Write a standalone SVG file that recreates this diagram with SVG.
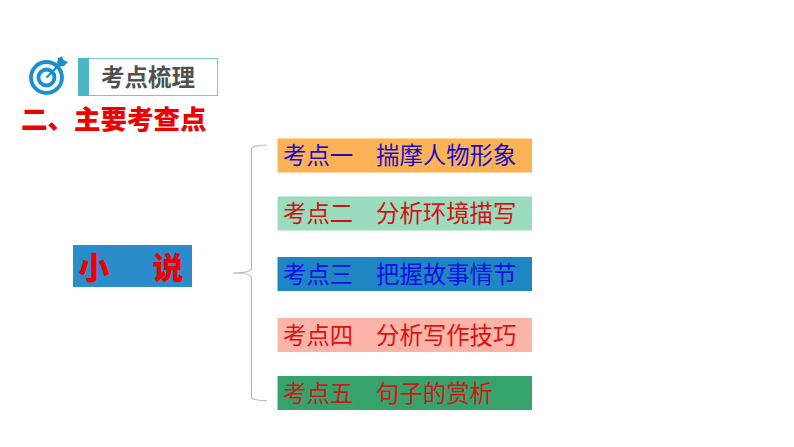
<svg xmlns="http://www.w3.org/2000/svg" width="794" height="447" viewBox="0 0 794 447">
<style>
text{font-family:"Noto Sans CJK SC","Noto Sans CJK JP",sans-serif}
.t{font-size:23.400px}
.h{font-size:31px;font-weight:900;fill:#ee0000}
</style>
<rect width="794" height="447" fill="#fff"/>
<g id="badge">
<g fill="none" stroke="#1b8fcb">
<circle cx="46.500" cy="77.500" r="15.500" stroke-width="3.800"/>
<circle cx="46.500" cy="77.500" r="8" stroke-width="3.800"/>
</g>
<path d="M46.500 77.500L60 64" stroke="#1b8fcb" stroke-width="2.400" fill="none"/>
<path d="M57 63L58 58L62 56.500L63.500 60L68 62L64 66L60 66.500Z" fill="#1b8fcb"/>
<rect x="78.500" y="58.500" width="139" height="37" fill="#fff" stroke="#7cc5cc" stroke-width="1"/>
<rect x="78" y="58" width="11" height="38" fill="#4db6c4"/>
<text x="101" y="86" font-size="23.500" font-weight="700" fill="#505050">考点梳理</text>
</g>
<text id="heading" x="21" y="129" font-size="26.500" font-weight="900" fill="#ee0000">二、主要考查点</text>
<g id="connectors">
<path d="M267 145C258 145.500 251.500 146 251.500 149L251.500 268C251.500 271 247 273 233 273C247 273 251.500 275 251.500 278L251.500 397C251.500 399.500 258 400.500 267 400.700" fill="none" stroke="#a9bcd6" stroke-width="1.200"/>
</g>
<g id="main">
<rect x="73" y="245" width="119" height="42" fill="#2a8ccb"/>
<text class="h" x="78.500" y="279">小</text>
<text class="h" x="152.500" y="279">说</text>
</g>
<g id="n1">
<rect x="277.500" y="138.500" width="254.500" height="34" fill="#fcb255"/>
<text class="t" fill="#1a0fc8" x="283" y="164">考点一</text><text class="t" fill="#1a0fc8" x="376" y="164">揣摩人物形象</text>
</g>
<g id="n2">
<rect x="277.500" y="196.500" width="254.500" height="34" fill="#9adcbd"/>
<text class="t" fill="#d81010" x="283" y="222">考点二</text><text class="t" fill="#d81010" x="376" y="222">分析环境描写</text>
</g>
<g id="n3">
<rect x="277.500" y="257" width="254.500" height="34" fill="#1f86c4"/>
<text class="t" fill="#1010e0" x="283" y="283">考点三</text><text class="t" fill="#1010e0" x="376" y="283">把握故事情节</text>
</g>
<g id="n4">
<rect x="277.500" y="318" width="254.500" height="34" fill="#fbb5a8"/>
<text class="t" fill="#e01010" x="283" y="344">考点四</text><text class="t" fill="#e01010" x="376" y="344">分析写作技巧</text>
</g>
<g id="n5">
<rect x="277.500" y="376" width="254.500" height="34" fill="#36a36c"/>
<text class="t" fill="#d01818" x="283" y="402">考点五</text><text class="t" fill="#d01818" x="376" y="402">句子的赏析</text>
</g>
</svg>
